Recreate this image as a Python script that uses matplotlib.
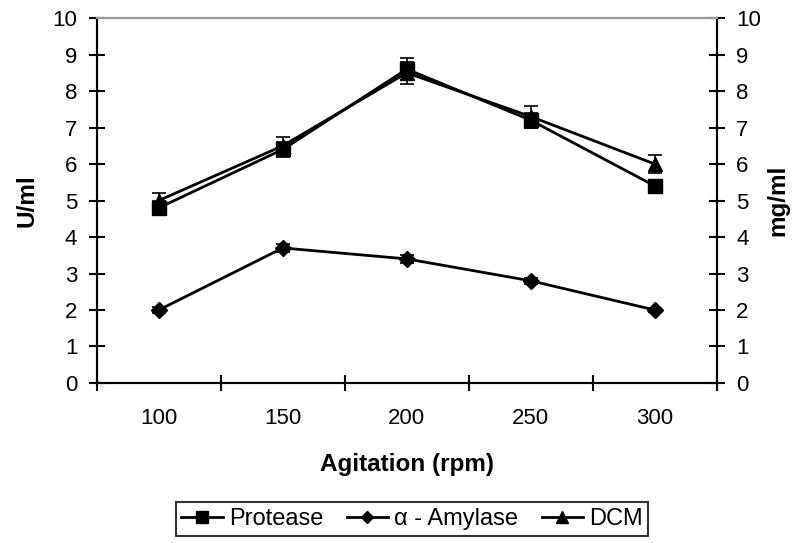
import matplotlib
matplotlib.use("Agg")
import matplotlib.pyplot as plt
from matplotlib.lines import Line2D
import numpy as np

# donnees
agitation = ["100", "150", "200", "250", "300"]
protease = [4.8, 6.4, 8.6, 7.2, 5.4]
protease_err = [0.2, 0.2, 0.3, 0.2, 0.15]
amylase = [2.0, 3.7, 3.4, 2.8, 2.0]
amylase_err = [0.08, 0.12, 0.1, 0.08, 0.06]
dcm = [5.0, 6.5, 8.5, 7.3, 6.0]
dcm_err = [0.2, 0.25, 0.3, 0.3, 0.25]

plt.rcParams["font.family"] = ["Liberation Sans", "DejaVu Sans"]

TICK_FS = 16
LABEL_FS = 17.5
LEG_FS = 17

fig = plt.figure(figsize=(8, 5.43), dpi=100)
ax = fig.add_axes([0.121, 0.2947, 0.775, 0.672])
ax2 = ax.twinx()

x = np.arange(1, len(agitation) + 1)
style = dict(color="black", linewidth=2, ecolor="black", elinewidth=1.2,
             capsize=5, capthick=1.2)

ax.errorbar(x, protease, yerr=protease_err, marker="s", markersize=10, **style)
ax.errorbar(x, amylase, yerr=amylase_err, marker="D", markersize=8, **style)
ax2.errorbar(x, dcm, yerr=dcm_err, marker="^", markersize=10, **style)

for a in (ax, ax2):
    a.set_ylim(0, 10)
    a.set_yticks(range(0, 11))
    a.set_xlim(0.5, len(agitation) + 0.5)
    a.tick_params(axis="y", direction="inout", length=12, width=1.5,
                  labelsize=TICK_FS, pad=8)

# ticks majeurs entre les categories, libelles au centre
ax.set_xticks(np.arange(0.5, len(agitation) + 1, 1))
ax.set_xticklabels([])
ax.set_xticks(x, minor=True)
ax.set_xticklabels(agitation, minor=True)
ax.tick_params(axis="x", which="major", direction="inout", length=12, width=1.5)
ax.tick_params(axis="x", which="minor", length=0, labelsize=TICK_FS, pad=18)

for a in (ax, ax2):
    a.spines["left"].set_linewidth(1.5)
    a.spines["right"].set_linewidth(1.5)
    a.spines["bottom"].set_linewidth(1.5)
    a.spines["top"].set_color("#999999")
    a.spines["top"].set_linewidth(1.5)

ax.set_ylabel("U/ml", fontsize=LABEL_FS, fontweight="bold", labelpad=10)
ax2.set_ylabel("mg/ml", fontsize=LABEL_FS, fontweight="bold", labelpad=4)
ax.set_xlabel("Agitation (rpm)", fontsize=LABEL_FS, fontweight="bold",
              labelpad=17)

# legende sans barres d'erreur, comme dans l'original
handles = [
    Line2D([], [], color="black", linewidth=2, marker="s", markersize=8,
           label="Protease"),
    Line2D([], [], color="black", linewidth=2, marker="D", markersize=6,
           label="\u03b1 - Amylase"),
    Line2D([], [], color="black", linewidth=2, marker="^", markersize=8,
           label="DCM"),
]
leg = fig.legend(handles=handles, loc="upper center", ncol=3,
                 bbox_to_anchor=(0.515, 0.0755), fontsize=LEG_FS, frameon=True,
                 fancybox=False, edgecolor="black", handlelength=1.75,
                 handletextpad=0.25, columnspacing=1.0, borderpad=0.25,
                 borderaxespad=0)
leg.get_frame().set_linewidth(1.5)

fig.savefig("out.png", dpi=100)
